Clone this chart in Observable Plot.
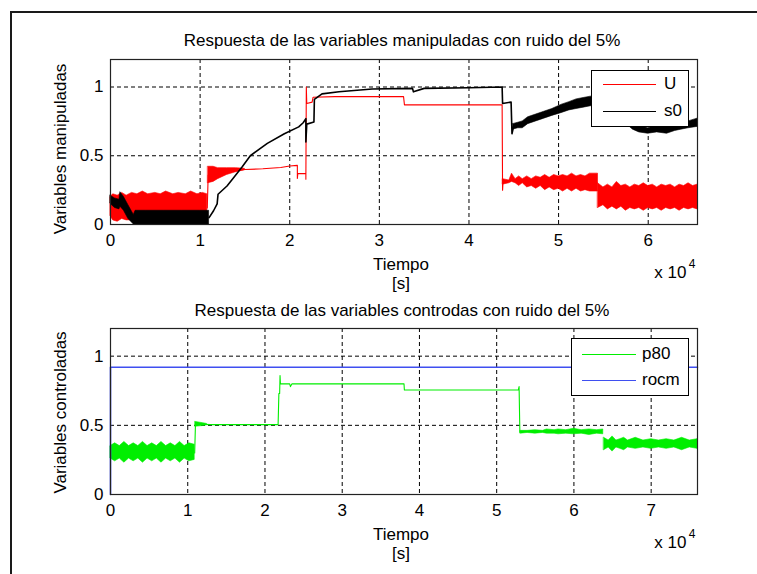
<!DOCTYPE html>
<html>
<head>
<meta charset="utf-8">
<script src="https://cdn.jsdelivr.net/npm/d3@7"></script>
<script src="https://cdn.jsdelivr.net/npm/@observablehq/plot@0.6"></script>
<style>
  html, body { margin: 0; padding: 0; background: #fff; overflow: hidden; }
  #chart { position: relative; width: 757px; height: 574px; overflow: hidden; background: #fff;
           font-family: "Liberation Sans", Arial, Helvetica, sans-serif; }
  #border { position: absolute; left: 10px; top: 11px; width: 800px; height: 620px;
            border: 2px solid #1a1a1a; box-sizing: border-box; }
  .panel { position: absolute; left: 0; }
  .legend { position: absolute; background: #fff; border: 1px solid #000; box-sizing: border-box; }
  .legend .sw { position: absolute; height: 0; border-top: 1.3px solid; }
  .legend .lb { position: absolute; font-size: 17px; line-height: 17px; color: #000; }
</style>
</head>
<body>
<div id="chart"><div id="border"></div></div>
<script>
// ---------------- data (time in units of 10^4 s) ----------------
const titleTop = "Respuesta de las variables manipuladas con ruido del 5%";
const titleBottom = "Respuesta de las variables controdas con ruido del 5%";
const yLabelTop = "Variables manipuladas";
const yLabelBottom = "Variables controladas";
const xLabel = "Tiempo";
const xUnit = "[s]";
const xScaleLabel = "x 10";
const xScaleExp = "4";
const seriesTop = ["U", "s0"];
const seriesBottom = ["p80", "rocm"];
const colorsTop = ["#ff0000", "#000000"];
const colorsBottom = ["#00ee00", "#3f4ff0"];
const xTicksTop = [0, 1, 2, 3, 4, 5, 6];
const xTicksBottom = [0, 1, 2, 3, 4, 5, 6, 7];
const yTicks = [0, 0.5, 1];

// U (red): noisy bands [t, low, high] and clean segments [t, value]
const uBand1 = [[0,0.06,0.20],[0.03,0.03,0.22],[0.08,0.02,0.21],[0.13,0.04,0.23],[0.18,0.03,0.21],[0.24,0.03,0.23],
  [0.3,0.03,0.22],[0.36,0.03,0.24],[0.42,0.03,0.22],[0.5,0.03,0.23],[0.56,0.03,0.22],[0.62,0.03,0.24],
  [0.7,0.03,0.22],[0.76,0.03,0.23],[0.84,0.03,0.22],[0.9,0.03,0.24],[0.97,0.03,0.22],[1.03,0.03,0.23],[1.08,0.04,0.22]];
const uBand2 = [[1.09,0.30,0.42],[1.15,0.31,0.42],[1.2,0.33,0.41],[1.3,0.36,0.41],[1.4,0.38,0.41],[1.5,0.395,0.405]];
const uLine = [[1.08,0.12],[1.09,0.36],[1.5,0.40],[1.7,0.405],[1.9,0.415],[2.0,0.425],[2.085,0.43],[2.085,0.335],
  [2.09,0.37],[2.18,0.37],[2.18,0.33],[2.185,1.0],[2.19,0.88],[2.25,0.89],[2.26,0.925],[2.5,0.93],[3.27,0.93],
  [3.28,0.87],[4.37,0.87],[4.375,0.25],[4.38,0.31]];
const uBand3 = [[4.38,0.29,0.33],[4.45,0.30,0.32],[4.48,0.31,0.37],[4.52,0.30,0.33],[4.56,0.28,0.35],[4.6,0.30,0.33],
  [4.65,0.27,0.35],[4.7,0.28,0.33],[4.75,0.26,0.35],[4.8,0.28,0.34],[4.85,0.25,0.36],[4.9,0.27,0.34],[4.95,0.25,0.36],
  [5.0,0.26,0.35],[5.05,0.24,0.36],[5.1,0.26,0.35],[5.15,0.24,0.37],[5.2,0.26,0.35],[5.25,0.24,0.36],[5.3,0.25,0.35],
  [5.35,0.24,0.37],[5.44,0.24,0.37]];
const uBand4 = [[5.44,0.12,0.30],[5.5,0.14,0.27],[5.55,0.11,0.29],[5.6,0.13,0.27],[5.65,0.11,0.31],[5.7,0.13,0.28],
  [5.75,0.10,0.29],[5.8,0.12,0.27],[5.85,0.11,0.29],[5.9,0.12,0.28],[5.95,0.10,0.30],[6.0,0.12,0.28],[6.05,0.11,0.29],
  [6.1,0.12,0.27],[6.15,0.10,0.29],[6.2,0.12,0.28],[6.25,0.11,0.29],[6.3,0.12,0.27],[6.35,0.10,0.29],[6.4,0.12,0.28],
  [6.45,0.11,0.30],[6.5,0.12,0.28],[6.55,0.11,0.29]];

// s0 (black)
const s0Band1 = [[0,0.15,0.21],[0.05,0.12,0.19],[0.1,0.11,0.18],[0.11,0.13,0.235],[0.15,0.10,0.20],[0.2,0.04,0.14],
  [0.26,0.0,0.07],[0.28,0,0.10],[0.4,0,0.10],[0.6,0,0.10],[0.8,0,0.10],[1.0,0,0.10],[1.1,0,0.10]];
const s0Line = [[1.1,0.05],[1.15,0.10],[1.19,0.15],[1.2,0.22],[1.3,0.28],[1.38,0.345],[1.47,0.42],[1.56,0.50],
  [1.75,0.59],[1.94,0.66],[2.1,0.71],[2.15,0.74],[2.18,0.77],[2.18,0.60],[2.19,0.73],[2.27,0.745],[2.275,0.91],
  [2.36,0.95],[2.55,0.965],[2.92,0.985],[3.37,0.99],[3.38,0.965],[3.5,0.99],[4.0,0.995],[4.37,1.0],[4.375,0.88],
  [4.47,0.89],[4.48,0.66],[4.5,0.72]];
const s0Band2 = [[4.49,0.69,0.73],[4.55,0.70,0.74],[4.6,0.70,0.75],[4.66,0.73,0.78],[4.75,0.75,0.80],[4.84,0.77,0.82],
  [4.93,0.79,0.84],[5.03,0.81,0.87],[5.12,0.83,0.89],[5.2,0.84,0.91],[5.28,0.85,0.92],[5.36,0.86,0.93],[5.5,0.86,0.93],
  [5.65,0.79,0.86],[5.83,0.69,0.74],[5.9,0.67,0.72],[6.0,0.66,0.70],[6.1,0.67,0.72],[6.21,0.66,0.71],
  [6.3,0.68,0.73],[6.37,0.69,0.73],[6.45,0.70,0.75],[6.55,0.71,0.77]];

// p80 (green)
const p80Band1 = [[0,0.26,0.35],[0.06,0.24,0.37],[0.12,0.26,0.35],[0.18,0.23,0.38],[0.24,0.26,0.35],[0.3,0.24,0.37],
  [0.36,0.26,0.35],[0.42,0.23,0.38],[0.48,0.26,0.35],[0.54,0.24,0.37],[0.6,0.26,0.35],[0.66,0.23,0.38],
  [0.72,0.26,0.35],[0.78,0.24,0.37],[0.84,0.26,0.35],[0.9,0.23,0.38],[0.96,0.26,0.35],[1.02,0.24,0.37],[1.09,0.25,0.36]];
const p80Line = [[1.09,0.30],[1.1,0.51],[1.3,0.505],[2.17,0.505],[2.18,0.73],[2.19,0.73],[2.195,0.86],[2.2,0.80],
  [2.32,0.80],[2.33,0.78],[2.35,0.80],[3.8,0.80],[3.805,0.755],[5.28,0.755],[5.29,0.78],[5.3,0.45],[5.31,0.455]];
const p80Band2 = [[1.1,0.49,0.525],[1.2,0.495,0.515],[1.25,0.50,0.51]];
const p80Band3 = [[5.31,0.44,0.46],[5.4,0.445,0.46],[5.5,0.44,0.465],[5.6,0.445,0.46],[5.65,0.44,0.47],[5.75,0.44,0.465],
  [5.8,0.435,0.47],[5.9,0.44,0.465],[6.0,0.435,0.475],[6.1,0.44,0.465],[6.2,0.43,0.47],[6.3,0.44,0.465],[6.38,0.435,0.47]];
const p80Band4 = [[6.39,0.32,0.41],[6.45,0.34,0.39],[6.5,0.31,0.42],[6.55,0.34,0.39],[6.6,0.33,0.40],[6.65,0.32,0.41],
  [6.7,0.34,0.39],[6.8,0.33,0.41],[6.9,0.34,0.39],[7.0,0.33,0.40],[7.1,0.34,0.39],[7.2,0.33,0.40],[7.3,0.34,0.39],
  [7.4,0.32,0.41],[7.5,0.34,0.39],[7.6,0.33,0.40]];

// rocm (blue)
const rocmLine = [[0,0],[0,0.92],[7.6,0.92]];

// ---------------- rendering ----------------
const FONT = '"Liberation Sans", Arial, Helvetica, sans-serif';
const fmt = d => String(d);

function band(data, color) {
  return Plot.areaY(data, {x: d => d[0], y1: d => d[1], y2: d => d[2], fill: color, stroke: color, strokeWidth: 0.6});
}
function line(data, color, w) {
  return Plot.line(data, {x: d => d[0], y: d => d[1], stroke: color, strokeWidth: w});
}
function label(str, opts) {
  return Plot.text([str], {text: d => d, fontSize: 17, lineAnchor: "middle", textAnchor: "middle", ...opts});
}

function panel({height, mt, mb, xDomain, xTicks, marks, title, yLabel, yLabelDy, titleDy}) {
  return Plot.plot({
    width: 757, height,
    marginLeft: 110, marginRight: 60, marginTop: mt, marginBottom: mb,
    style: {fontFamily: FONT, fontSize: "17px", background: "transparent", overflow: "visible", color: "#000"},
    x: {domain: xDomain, ticks: xTicks, tickSize: 0, tickPadding: 9, tickFormat: fmt, label: null},
    y: {domain: [0, 1.2], ticks: yTicks, tickSize: 0, tickPadding: 7, tickFormat: fmt, label: null},
    marks: [
      Plot.ruleX(xTicks.slice(1), {stroke: "#000", strokeDasharray: "4,3", strokeWidth: 1}),
      Plot.ruleY(yTicks.slice(1), {stroke: "#000", strokeDasharray: "4,3", strokeWidth: 1}),
      ...marks,
      Plot.frame({stroke: "#222", strokeWidth: 1.2}),
      label(title, {frameAnchor: "top", dy: titleDy, dx: -2}),
      label(yLabel, {frameAnchor: "left", rotate: -90, dx: -50, dy: yLabelDy}),
      label(xLabel, {frameAnchor: "bottom", dy: 40, dx: -3}),
      label(xUnit, {frameAnchor: "bottom", dy: 59, dx: -3}),
      label(xScaleLabel, {frameAnchor: "bottom-right", textAnchor: "end", dx: -11, dy: 48}),
      label(xScaleExp, {frameAnchor: "bottom-right", textAnchor: "end", dx: -2, dy: 40, fontSize: 12})
    ]
  });
}

const topPanel = panel({
  height: 290, mt: 59, mb: 66, xDomain: [0, 6.55], xTicks: xTicksTop,
  title: titleTop, yLabel: yLabelTop, yLabelDy: 7, titleDy: -19,
  marks: [
    band(uBand1, colorsTop[0]), band(uBand2, colorsTop[0]), band(uBand3, colorsTop[0]), band(uBand4, colorsTop[0]),
    line(uLine, colorsTop[0], 1.1),
    band(s0Band1, colorsTop[1]), band(s0Band2, colorsTop[1]),
    line(s0Line, colorsTop[1], 1.6)
  ]
});
const bottomPanel = panel({
  height: 284, mt: 38, mb: 80, xDomain: [0, 7.6], xTicks: xTicksBottom,
  title: titleBottom, yLabel: yLabelBottom, yLabelDy: 1, titleDy: -18,
  marks: [
    band(p80Band1, colorsBottom[0]), band(p80Band2, colorsBottom[0]), band(p80Band3, colorsBottom[0]), band(p80Band4, colorsBottom[0]),
    line(p80Line, colorsBottom[0], 1.1),
    line(rocmLine, colorsBottom[1], 1.6)
  ]
});

const chart = document.getElementById("chart");
function place(el, topPx) {
  const wrap = document.createElement("div");
  wrap.className = "panel";
  wrap.style.top = topPx + "px";
  wrap.appendChild(el);
  chart.appendChild(wrap);
}
place(topPanel, 0);
place(bottomPanel, 290);

function legend(names, colors, box) {
  const lg = document.createElement("div");
  lg.className = "legend";
  Object.assign(lg.style, {left: box.left + "px", top: box.top + "px", width: box.w + "px", height: box.h + "px"});
  names.forEach((n, i) => {
    const sw = document.createElement("div");
    sw.className = "sw";
    Object.assign(sw.style, {left: box.lx + "px", width: box.lw + "px", top: (box.y0 + i * box.dy) + "px", borderTopColor: colors[i]});
    const lb = document.createElement("div");
    lb.className = "lb";
    lb.textContent = n;
    Object.assign(lb.style, {left: box.tx + "px", top: (box.y0 + i * box.dy - 9) + "px"});
    lg.appendChild(sw); lg.appendChild(lb);
  });
  chart.appendChild(lg);
}
legend(seriesTop, colorsTop, {left: 591, top: 70, w: 98, h: 57, lx: 11, lw: 53, tx: 72, y0: 13, dy: 27});
legend(seriesBottom, colorsBottom, {left: 571, top: 338, w: 118, h: 58, lx: 10, lw: 54, tx: 70, y0: 15, dy: 26});
</script>
</body>
</html>
